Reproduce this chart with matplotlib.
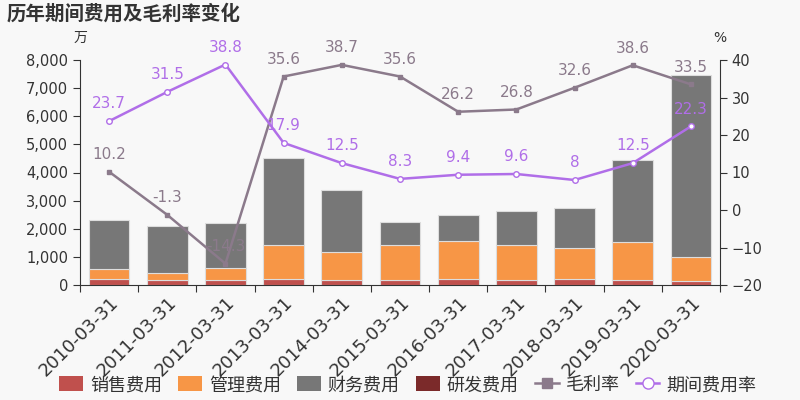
import matplotlib
matplotlib.use("Agg")
import matplotlib.pyplot as plt
import numpy as np
from matplotlib.ticker import FuncFormatter
from matplotlib.patches import Patch
from matplotlib.lines import Line2D

plt.rcParams['font.family'] = ['DejaVu Sans', 'Noto Sans CJK SC']

# 数据 (万)
dates = ["2010-03-31", "2011-03-31", "2012-03-31", "2013-03-31", "2014-03-31", "2015-03-31",
         "2016-03-31", "2017-03-31", "2018-03-31", "2019-03-31", "2020-03-31"]
sales_fee = [226, 190, 190, 226, 190, 190, 226, 190, 214, 167, 155]
admin_fee = [334, 227, 417, 1191, 977, 1227, 1345, 1227, 1119, 1369, 845]
finance_fee = [1750, 1678, 1607, 3083, 2226, 821, 917, 1226, 1393, 2893, 6480]
rd_fee = [0, 0, 0, 0, 0, 0, 0, 0, 0, 0, 0]
gross_margin = [10.2, -1.3, -14.3, 35.6, 38.7, 35.6, 26.2, 26.8, 32.6, 38.6, 33.5]
period_rate = [23.7, 31.5, 38.8, 17.9, 12.5, 8.3, 9.4, 9.6, 8, 12.5, 22.3]

c_sales = "#c0504d"
c_admin = "#f79646"
c_fin = "#777777"
c_rd = "#7b2a2a"
c_gm = "#8b7a8b"
c_pr = "#b06ee8"
bg = "#f8f8f8"

fig = plt.figure(figsize=(8, 4), dpi=100, facecolor=bg)
ax = fig.add_axes([0.1, 0.2875, 0.8, 0.5625], facecolor=bg)
x = np.arange(len(dates))
w = 0.7

b1 = np.array(sales_fee)
b2 = b1 + np.array(admin_fee)
b3 = b2 + np.array(finance_fee)
ax.bar(x, sales_fee, w, color=c_sales, edgecolor="#dddddd", linewidth=0.8)
ax.bar(x, admin_fee, w, bottom=b1, color=c_admin, edgecolor="#dddddd", linewidth=0.8)
ax.bar(x, finance_fee, w, bottom=b2, color=c_fin, edgecolor="#dddddd", linewidth=0.8)
ax.bar(x, rd_fee, w, bottom=b3, color=c_rd, linewidth=0)

ax.set_ylim(0, 8000)
ax.set_yticks(range(0, 8001, 1000))
ax.yaxis.set_major_formatter(FuncFormatter(lambda v, p: f"{int(v):,}"))
ax.set_xlim(-0.5, len(dates) - 0.5)
ax.set_xticks(np.arange(-0.5, len(dates), 1), minor=False)
ax.set_xticklabels([])
ax.set_xticks(x, minor=True)
ax.set_xticklabels(dates, minor=True, rotation=45, ha="right", rotation_mode="anchor",
                   fontsize=13, color="#333333")
ax.tick_params(axis="x", which="minor", length=0, pad=6)
ax.tick_params(axis="x", which="major", length=5, color="#333333")
ax.tick_params(axis="y", labelsize=10.5, colors="#333333", length=5)
for s in ["top", "right"]:
    ax.spines[s].set_visible(False)
ax.spines["left"].set_color("#333333")
ax.spines["bottom"].set_color("#333333")

ax2 = ax.twinx()
ax2.set_ylim(-20, 40)
ax2.set_yticks(range(-20, 41, 10))
ax2.tick_params(axis="y", labelsize=10.5, colors="#333333", length=5)
for s in ["top", "left", "bottom"]:
    ax2.spines[s].set_visible(False)
ax2.spines["right"].set_color("#333333")

ax2.plot(x, gross_margin, color=c_gm, lw=1.8, marker="s", ms=3.5, mfc=c_gm, mec=c_gm)
ax2.plot(x, period_rate, color=c_pr, lw=1.8, marker="o", ms=4, mfc="white", mec=c_pr)
for xi, v in zip(x, gross_margin):
    ax2.annotate(f"{v:g}", (xi, v), textcoords="offset points", xytext=(0, 7),
                 ha="center", va="bottom", fontsize=11, color=c_gm)
for xi, v in zip(x, period_rate):
    ax2.annotate(f"{v:g}", (xi, v), textcoords="offset points", xytext=(0, 7),
                 ha="center", va="bottom", fontsize=11, color=c_pr)

fig.text(0.008, 0.965, "历年期间费用及毛利率变化", fontsize=14, fontweight="bold",
         color="#333333", va="center", ha="left")
fig.text(0.1, 0.905, "万", fontsize=10, color="#333333", ha="center", va="center")
fig.text(0.9, 0.905, "%", fontsize=10, color="#333333", ha="center", va="center")

handles = [
    Patch(facecolor=c_sales, label="销售费用"),
    Patch(facecolor=c_admin, label="管理费用"),
    Patch(facecolor=c_fin, label="财务费用"),
    Patch(facecolor=c_rd, label="研发费用"),
    Line2D([0], [0], color=c_gm, lw=1.8, marker="s", ms=7, mfc=c_gm, label="毛利率"),
    Line2D([0], [0], color=c_pr, lw=1.8, marker="o", ms=8, mfc="white", mec=c_pr, label="期间费用率"),
]
fig.legend(handles=handles, loc="center", bbox_to_anchor=(0.51, 0.037), ncol=6, frameon=False,
           fontsize=13, handlelength=1.3, handleheight=0.9, handletextpad=0.4, columnspacing=0.9,
           labelcolor="#333333")

fig.savefig("out.png", dpi=100, facecolor=bg)
